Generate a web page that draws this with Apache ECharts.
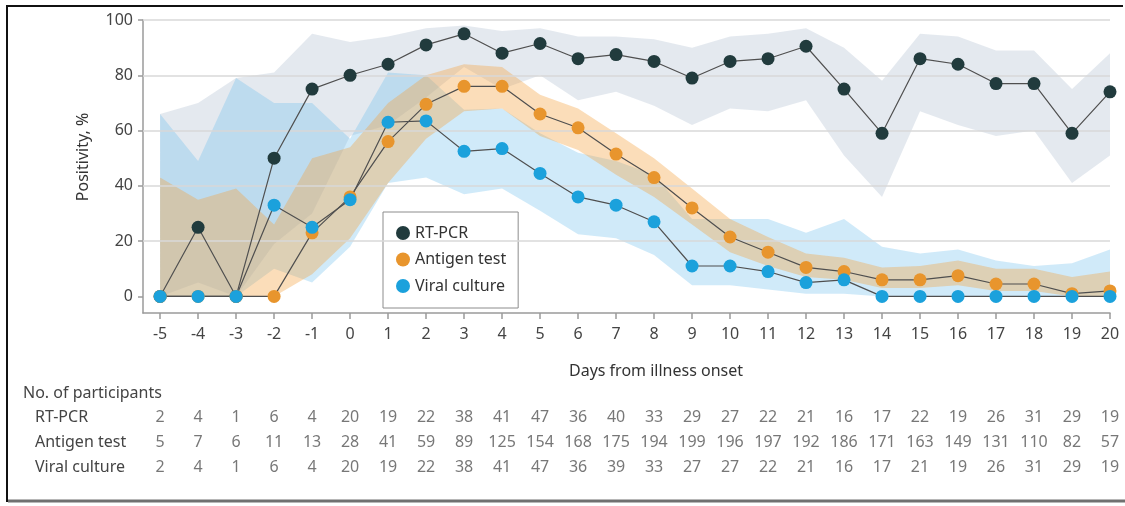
<!DOCTYPE html>
<html>
<head>
<meta charset="utf-8">
<script src="https://cdn.jsdelivr.net/npm/echarts@6/dist/echarts.min.js"></script>
<style>
html,body{margin:0;padding:0;background:#fff;}
#c{width:1125px;height:506px;}
</style>
</head>
<body>
<div id="c"></div>
<script>
// ---- data ----
const days = [-5,-4,-3,-2,-1,0,1,2,3,4,5,6,7,8,9,10,11,12,13,14,15,16,17,18,19,20];
const yTicks = [0,20,40,60,80,100];
const seriesNames = ['RT-PCR','Antigen test','Viral culture'];

const rtpcr   = [0,25,0,50,75,80,84,91,95,88,91.5,86,87.5,85,79,85,86,90.5,75,59,86,84,77,77,59,74];
const antigen = [0,0,0,0,23,36,56,69.5,76,76,66,61,51.5,43,32,21.5,16,10.5,9,6,6,7.5,4.5,4.5,1,2];
const viral   = [0,0,0,33,25,35,63,63.5,52.5,53.5,44.5,36,33,27,11,11,9,5,6,0,0,0,0,0,0,0];

const rtpcrLo   = [0,5,0,19,30,58,62,72,83,75,80,71,74,69,62,68,67,71,51,36,67,62,58,60,41,51];
const rtpcrHi   = [66,70,79,81,95,92,94,97,98,96,97,94,94,93,90,94,95,97,90,78,95,94,89,89,75,88];
const antigenLo = [0,0,0,0,8,21,41,57,67,68,58,53,44,36,26,16,11,7,6,3,3,4,2,2,0,0];
const antigenHi = [43,35,39,26,50,54,70,80,84,83,73,68,59,50,39,28,21.5,15.5,14,10.5,11,13,10,10,7,9];
const viralLo   = [0,0,0,10,5,18,41,43,37,39,31,22.5,21,15,4,4,2.5,1,1,0,0,0,0,0,0,0];
const viralHi   = [66,49,79,70,70,57,81,80,67.5,68,59,52,49,44,28,28,28,23,28,18,15.5,17,13,11,12,17];

const nRtpcr   = [2,4,1,6,4,20,19,22,38,41,47,36,40,33,29,27,22,21,16,17,22,19,26,31,29,19];
const nAntigen = [5,7,6,11,13,28,41,59,89,125,154,168,175,194,199,196,197,192,186,171,163,149,131,110,82,57];
const nViral   = [2,4,1,6,4,20,19,22,38,41,47,36,39,33,27,27,22,21,16,17,21,19,26,31,29,19];

// ---- styles ----
const FONT = '"Noto Sans", "Open Sans", sans-serif';
const C_RT = '#213b3d', C_AG = '#e8952d', C_VC = '#1ba1dc';
const axisColor = '#9a9a9a';

function band(name, lo, hi, fill) {
  return {
    type: 'custom', name: name, silent: true, z: 1, clip: true,
    xAxisIndex: 0, yAxisIndex: 0,
    data: [[0, 0]],
    renderItem: function (params, api) {
      const pts = [];
      for (let i = 0; i < days.length; i++) pts.push(api.coord([days[i], hi[i]]));
      for (let i = days.length - 1; i >= 0; i--) pts.push(api.coord([days[i], lo[i]]));
      return { type: 'polygon', shape: { points: pts }, style: { fill: fill } };
    }
  };
}
function line(name, vals, color) {
  return {
    type: 'line', name: name, z: 5, clip: false,
    xAxisIndex: 0, yAxisIndex: 0,
    data: days.map((d, i) => [d, vals[i]]),
    symbol: 'circle', symbolSize: 13, showSymbol: true,
    itemStyle: { color: color },
    lineStyle: { color: '#4f4f4f', width: 1.2 },
    emphasis: { disabled: true }
  };
}
function tableRow(row, counts) {
  return {
    type: 'scatter', name: 'n-' + row, xAxisIndex: 1, yAxisIndex: 1, silent: true,
    symbolSize: 2, itemStyle: { color: 'rgba(255,255,255,0)' },
    data: days.map((d, i) => [d, row, counts[i]]),
    label: { show: true, position: 'inside', formatter: p => String(p.value[2]),
             fontSize: 16, color: '#555', fontFamily: FONT },
    emphasis: { disabled: true }
  };
}

const chart = echarts.init(document.getElementById('c'));
chart.setOption({
  animation: false,
  textStyle: { fontFamily: FONT },
  grid: [
    { left: 143, right: 15, top: 20, bottom: 193 },
    { left: 143, right: 15, top: 404.5, height: 75 }
  ],
  xAxis: [
    { type: 'value', gridIndex: 0, min: -5.45, max: 20,
      axisLine: { show: true, onZero: false, lineStyle: { color: axisColor, width: 1.5 } },
      axisTick: { show: true, customValues: days, length: 6, lineStyle: { color: axisColor, width: 1.5 } },
      axisLabel: { customValues: days, fontSize: 16, color: '#444', margin: 13 },
      splitLine: { show: false } },
    { type: 'value', gridIndex: 1, min: -5.45, max: 20, show: false }
  ],
  yAxis: [
    { type: 'value', gridIndex: 0, min: -6, max: 100,
      axisLine: { show: true, onZero: false, lineStyle: { color: axisColor, width: 1.5 } },
      axisTick: { show: true, customValues: yTicks, length: 5, lineStyle: { color: axisColor, width: 1.5 } },
      axisLabel: { customValues: yTicks, fontSize: 16, color: '#444', margin: 10 },
      splitLine: { show: false } },
    { type: 'category', gridIndex: 1, data: seriesNames, inverse: true,
      axisLine: { show: false, onZero: false }, axisTick: { show: false }, splitLine: { show: false },
      axisLabel: { align: 'left', margin: 108, fontSize: 16, color: '#444' } }
  ],
  legend: {
    data: seriesNames, orient: 'vertical', left: 383, top: 212,
    icon: 'circle', itemWidth: 14, itemHeight: 14, itemGap: 10.5,
    padding: [13, 12, 14, 13], borderColor: '#8c8c8c', borderWidth: 1, backgroundColor: '#fff',
    textStyle: { fontSize: 16, color: '#333', lineHeight: 14 },
    selectedMode: false
  },
  graphic: [
    { type: 'line', shape: { x1: 6, y1: 6, x2: 1123, y2: 6 }, style: { stroke: '#111', lineWidth: 2 } },
    { type: 'line', shape: { x1: 7, y1: 5, x2: 7, y2: 502 }, style: { stroke: '#111', lineWidth: 2 } },
    { type: 'line', shape: { x1: 8, y1: 501, x2: 1125, y2: 501 }, style: { stroke: '#707070', lineWidth: 3 } },
    { type: 'text', x: 83, y: 157, rotation: Math.PI / 2,
      style: { text: 'Positivity, %', fontSize: 16, fill: '#333', fontFamily: FONT, textAlign: 'center', textVerticalAlign: 'middle' } },
    { type: 'text', x: 656, y: 371,
      style: { text: 'Days from illness onset', fontSize: 16, fill: '#333', fontFamily: FONT, textAlign: 'center', textVerticalAlign: 'middle' } },
    { type: 'text', x: 23, y: 393,
      style: { text: 'No. of participants', fontSize: 16, fill: '#444', fontFamily: FONT, textAlign: 'left', textVerticalAlign: 'middle' } }
  ],
  series: [
    { type: 'line', name: 'gridlines', data: [], z: 0, silent: true,
      markLine: { silent: true, symbol: ['none', 'none'], label: { show: false },
        lineStyle: { color: '#d9d9d9', width: 1.5, type: 'solid' },
        data: [20, 40, 60, 80, 100].map(v => ({ yAxis: v })) } },
    band('RT-PCR CI', rtpcrLo, rtpcrHi, 'rgba(165,182,202,0.30)'),
    band('Viral culture CI', viralLo, viralHi, 'rgba(110,190,235,0.32)'),
    band('Antigen test CI', antigenLo, antigenHi, 'rgba(245,160,60,0.36)'),
    line('RT-PCR', rtpcr, C_RT),
    line('Antigen test', antigen, C_AG),
    line('Viral culture', viral, C_VC),
    tableRow('RT-PCR', nRtpcr),
    tableRow('Antigen test', nAntigen),
    tableRow('Viral culture', nViral)
  ]
});
</script>
</body>
</html>
